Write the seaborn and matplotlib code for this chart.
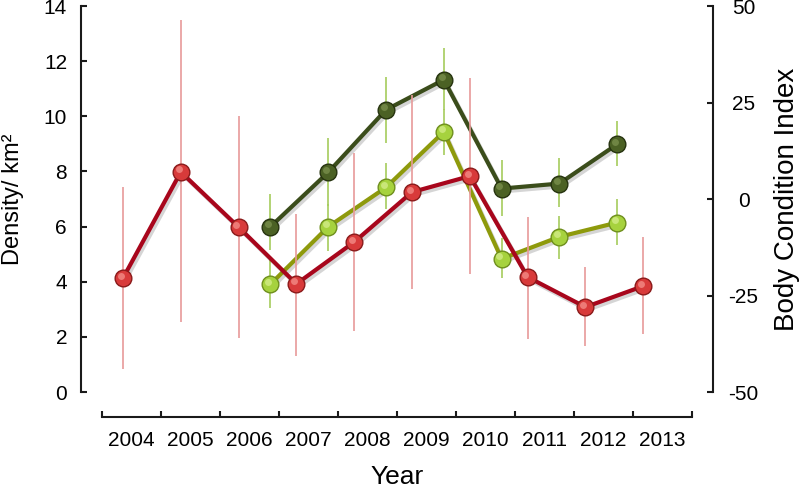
import numpy as np
import pandas as pd
import matplotlib
matplotlib.use("Agg")
import matplotlib.pyplot as plt
import matplotlib.patheffects as pe
from matplotlib.transforms import ScaledTranslation
import seaborn as sns

# density (left axis), 2004-2013
years_red = [2004, 2005, 2006, 2007, 2008, 2009, 2010, 2011, 2012, 2013]
density = [4.13, 7.98, 5.98, 3.92, 5.44, 7.25, 7.83, 4.17, 3.08, 3.84]
density_lo = [0.83, 2.54, 1.96, 1.31, 2.21, 3.74, 4.28, 1.92, 1.67, 2.10]
density_hi = [7.45, 13.5, 10.0, 6.46, 8.67, 10.77, 11.39, 6.35, 4.53, 5.62]

# body condition index (right axis), 2006-2012
years_bci = [2006, 2007, 2008, 2009, 2010, 2011, 2012]
bci_dark = [-7.2, 6.9, 23.1, 30.9, 2.7, 4.0, 14.2]
bci_dark_lo = [-13.2, -1.7, 14.5, 23.1, -4.3, -2.0, 8.5]
bci_dark_hi = [1.2, 15.8, 31.7, 39.0, 10.1, 10.6, 20.2]
bci_light = [-22.1, -7.2, 3.0, 17.4, -15.5, -9.8, -6.1]
bci_light_lo = [-28.3, -13.4, -2.7, 11.4, -20.5, -15.5, -11.9]
bci_light_hi = [-15.8, -1.2, 9.3, 23.4, -10.0, -4.3, 0.0]

year_labels = ['2004', '2005', '2006', '2007', '2008', '2009', '2010', '2011', '2012', '2013']

sns.set_theme(style="white")
plt.rcParams['font.family'] = ['Liberation Sans', 'DejaVu Sans']
plt.rcParams['axes.unicode_minus'] = False
for k in ('text.color', 'axes.labelcolor', 'xtick.color', 'ytick.color'):
    plt.rcParams[k] = 'black'

fig = plt.figure(figsize=(8, 4.91), dpi=100)
W, H = 800, 491


def px_axes(x0, y0, x1, y1):
    return fig.add_axes([x0 / W, 1 - y1 / H, (x1 - x0) / W, (y1 - y0) / H])


ax = px_axes(81, 6, 713, 392)
ax2 = ax.twinx()
ax.set_zorder(ax2.get_zorder() + 1)
ax.patch.set_visible(False)

bci_shift = 0.55
shadow = [pe.SimpleLineShadow(offset=(1.5, -2), alpha=0.18, shadow_color='k'), pe.Normal()]


def draw_series(a, x, y, lo, hi, line_c, face_c, edge_c, hi_c, err_c):
    a.vlines(x, lo, hi, color=err_c, lw=1.2, zorder=1)
    df = pd.DataFrame({'x': x, 'y': y})
    sns.lineplot(data=df, x='x', y='y', ax=a, color=line_c, lw=3.0,
                 zorder=2, path_effects=shadow, legend=False)
    a.plot(x, y, ls='none', marker='o', ms=12, mfc=face_c, mec=edge_c,
           mew=1.0, zorder=3)
    off = a.transData + ScaledTranslation(-1.6 / 72, 1.8 / 72, fig.dpi_scale_trans)
    a.plot(x, y, ls='none', marker='o', ms=5, mfc=hi_c, mec='none',
           alpha=0.55, zorder=4, transform=off)


xs_bci = [v + bci_shift for v in years_bci]
draw_series(ax2, xs_bci, bci_dark, bci_dark_lo, bci_dark_hi,
            '#3b4d1b', '#4b6124', '#26330f', '#8ea35e', '#a6cc5c')
draw_series(ax2, xs_bci, bci_light, bci_light_lo, bci_light_hi,
            '#8e9a0c', '#a6d23e', '#6f8f1e', '#e6f7a8', '#a6cc5c')
draw_series(ax, years_red, density, density_lo, density_hi,
            '#a8061c', '#d83a3a', '#8a1a1a', '#ffb0a8', '#e89a9a')

x0 = 2004 - 42 / 57.8
x1 = 2004 + 590 / 57.8
for a in (ax, ax2):
    a.set_xlim(x0, x1)
    a.set_xlabel('')
    a.set_xticks([])
    a.spines['top'].set_visible(False)
    a.spines['bottom'].set_visible(False)

ax.set_ylim(0, 14)
ax.set_yticks(range(0, 15, 2))
ax2.set_ylim(-50, 50)
ax2.set_yticks([-50, -25, 0, 25, 50])

ax.spines['right'].set_visible(False)
ax2.spines['left'].set_visible(False)
for sp in (ax.spines['left'], ax2.spines['right']):
    sp.set_color('#1a1a1a')
    sp.set_linewidth(1.5)

ax.tick_params(axis='y', direction='in', length=4, width=1.5, color='#1a1a1a',
               labelsize=15, pad=10, left=True, right=False)
ax2.tick_params(axis='y', direction='in', length=4, width=1.5, color='#1a1a1a',
                labelsize=15, pad=22, right=True, left=False)
for t in ax2.get_yticklabels():
    t.set_horizontalalignment('center')

ax.set_ylabel('Density/ km²', fontsize=17)
ax.yaxis.set_label_coords((24 - 81) / 632, 0.5)
ax2.set_ylabel('Body Condition Index', fontsize=20, rotation=90)
ax2.yaxis.set_label_coords((774 - 81) / 632, 0.5)

# separate year axis below the plot
axb = px_axes(102, 405, 692, 417)
axb.patch.set_visible(False)
for side in ('top', 'left', 'right'):
    axb.spines[side].set_visible(False)
axb.spines['bottom'].set_color('#1a1a1a')
axb.spines['bottom'].set_linewidth(1.5)
axb.set_yticks([])
axb.set_xlim(2003.5, 2013.5)
axb.set_xticks(np.arange(2003.5, 2014, 1.0))
axb.set_xticklabels([])
axb.set_xticks(range(2004, 2014), minor=True)
axb.set_xticklabels(year_labels, minor=True)
axb.tick_params(axis='x', which='major', direction='in', length=4, width=1.5,
                color='#1a1a1a', bottom=True)
axb.tick_params(axis='x', which='minor', length=0, labelsize=15, pad=10)
axb.set_xlabel('Year', fontsize=19, labelpad=11)

fig.savefig('out.png', dpi=100)
